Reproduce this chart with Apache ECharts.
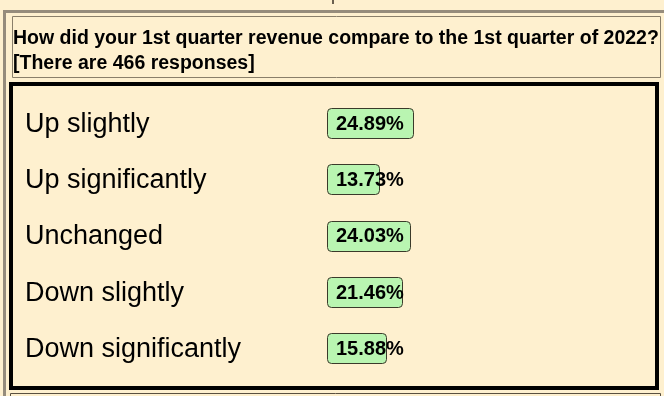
<!DOCTYPE html>
<html>
<head>
<meta charset="utf-8">
<script src="https://cdn.jsdelivr.net/npm/echarts@6/dist/echarts.min.js"></script>
<style>
html,body{margin:0;padding:0;background:#fef0cf;}
#chart{width:664px;height:396px;}
</style>
</head>
<body>
<div id="chart"></div>
<script>
const categories = ['Up slightly', 'Up significantly', 'Unchanged', 'Down slightly', 'Down significantly'];
const percentages = [24.89, 13.73, 24.03, 21.46, 15.88];
const titleLines = ['How did your 1st quarter revenue compare to the 1st quarter of 2022?', '[There are 466 responses]'];

const chart = echarts.init(document.getElementById('chart'));
const FONT = 'Liberation Sans, Arial, sans-serif';

chart.setOption({
  backgroundColor: '#fef0cf',
  animation: false,
  title: {
    text: titleLines.join('\n'),
    left: 13, top: 26, padding: 0,
    textStyle: { fontFamily: FONT, fontWeight: 'bold', fontSize: 19.5, color: '#000', lineHeight: 25 }
  },
  grid: { left: 327, width: 300, top: 96, height: 281.5 },
  xAxis: { type: 'value', min: 0, max: 100, show: false },
  yAxis: {
    type: 'category', data: categories, inverse: true,
    axisLine: { show: false }, axisTick: { show: false }, splitLine: { show: false },
    axisLabel: { align: 'left', margin: 302, fontSize: 27, color: '#000', fontFamily: FONT }
  },
  graphic: [
    { type: 'rect', shape: { x: 3, y: 10, width: 3, height: 386 }, style: { fill: '#968c7c' }, z: 0 },
    { type: 'rect', shape: { x: 3, y: 10, width: 661, height: 3 }, style: { fill: '#968c7c' }, z: 0 },
    { type: 'rect', shape: { x: 332, y: 0, width: 2, height: 4 }, style: { fill: '#6a6050' }, z: 0 },
    { type: 'rect', shape: { x: 12.5, y: 16.5, width: 648, height: 61 }, style: { fill: 'none', stroke: '#8a7f6a', lineWidth: 1 }, z: 0 },
    { type: 'rect', shape: { x: 11, y: 84, width: 646, height: 304 }, style: { fill: 'none', stroke: '#000', lineWidth: 4 }, z: 0 },
    { type: 'rect', shape: { x: 10.5, y: 393.5, width: 650, height: 10 }, style: { fill: 'none', stroke: '#5a5040', lineWidth: 1 }, z: 0 }
  ],
  series: [{
    type: 'custom',
    data: percentages.map((v, i) => [v, i]),
    renderItem: function (params, api) {
      const v = api.value(0), idx = api.value(1);
      const p0 = api.coord([0, idx]);
      const p1 = api.coord([v, idx]);
      const w = Math.round(p1[0] - p0[0]) + 11;
      const cy = p0[1];
      return {
        type: 'group',
        children: [
          { type: 'rect', shape: { x: p0[0] + 0.5, y: Math.round(cy) - 15.5, width: w, height: 30, r: 4 },
            style: { fill: '#b9f5b1', stroke: '#3a3a2a', lineWidth: 1 } },
          { type: 'text', x: p0[0] + 9, y: cy,
            style: { text: v.toFixed(2) + '%', fontFamily: FONT, fontWeight: 'bold', fontSize: 20, fill: '#000', textVerticalAlign: 'middle', verticalAlign: 'middle' } }
        ]
      };
    }
  }]
});
</script>
</body>
</html>
